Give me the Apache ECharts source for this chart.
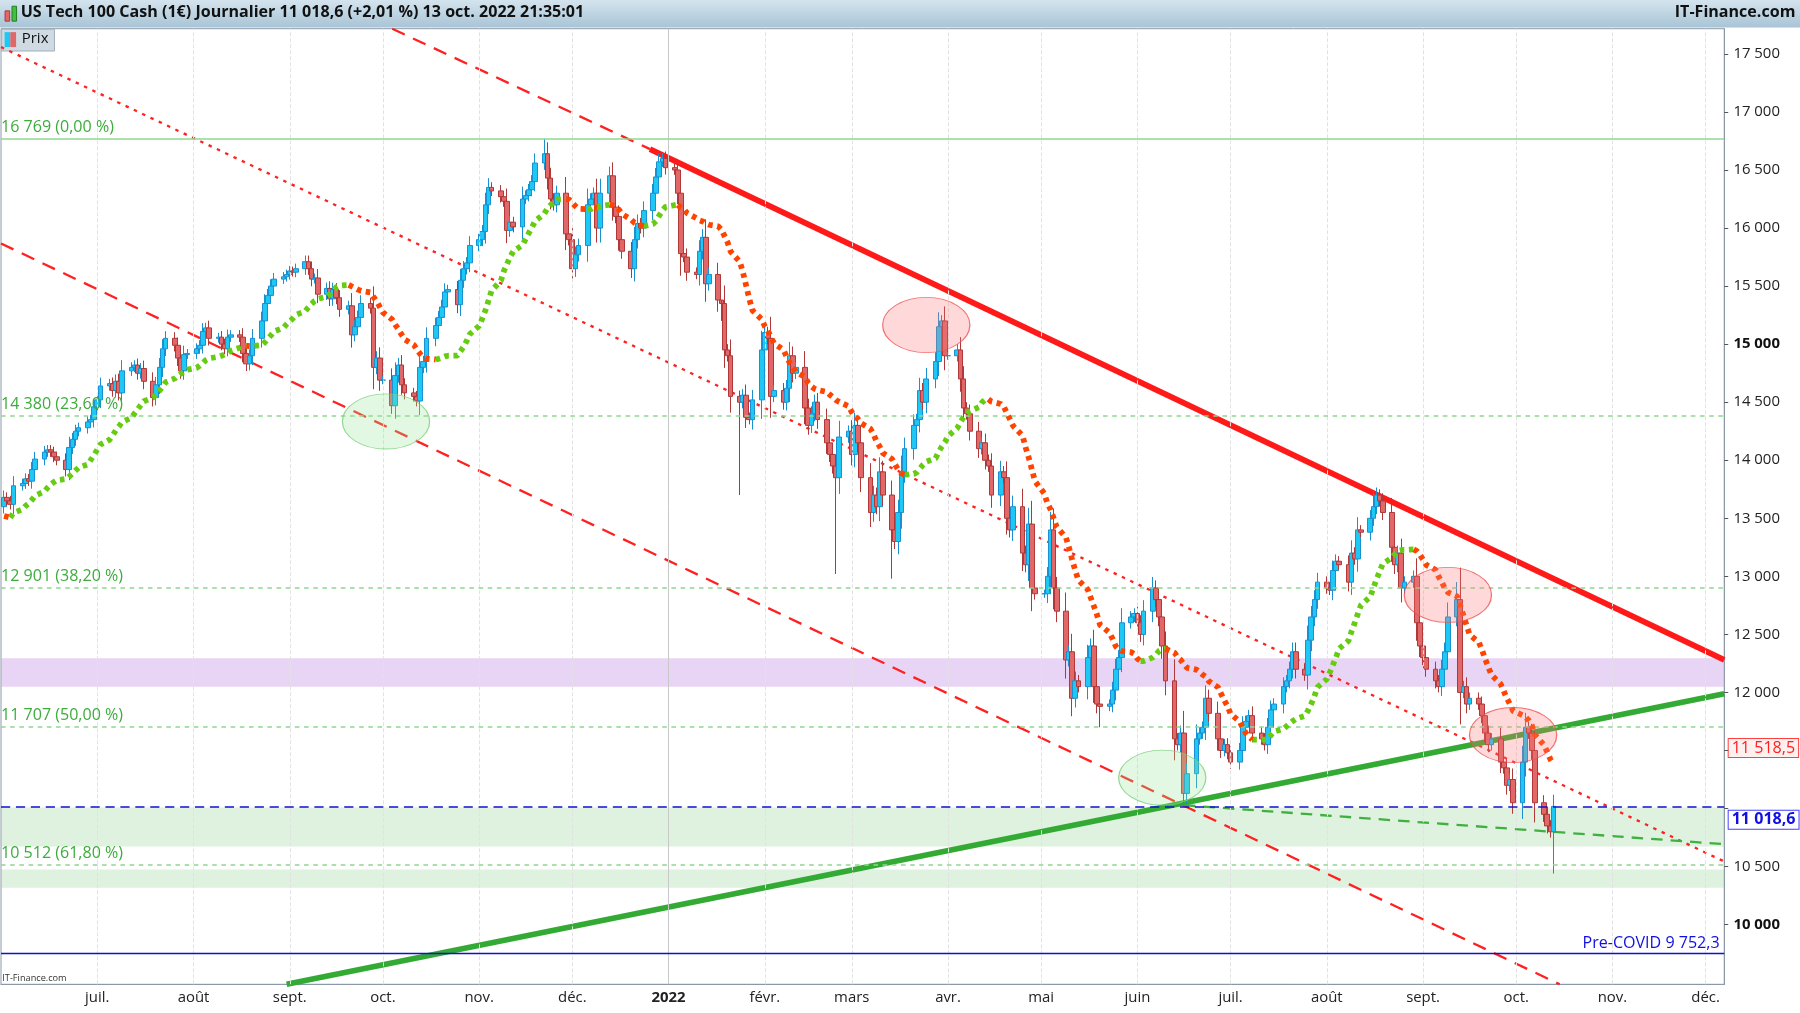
<!DOCTYPE html>
<html><head><meta charset="utf-8">
<script src="https://cdn.jsdelivr.net/npm/echarts@6/dist/echarts.min.js"></script>
<style>html,body{margin:0;padding:0;background:#fff}#c{width:1800px;height:1013px}</style>
</head><body><div id="c"></div>
<script>
const S = 1800/1568;
// Daily closes per month (weekdays in order)
const monthCloses = {
 '2021-06':[13680,13650,13620,13780,13800,13840,13820,13920,14010,14070,14090,14070,14030,14000,13920,14110,14180,14250,14280,14330,14350,14460],
 '2021-07':[14520,14640,14660,14600,14680,14580,14770,14800,14820,14750,14790,14680,14540,14650,14800,14960,15050,14990,14880,14770,14910,14920],
 '2021-08':[14960,14990,15110,15140,15050,15060,15000,14960,15060,15080,15060,14920,14830,14900,15050,15200,15350,15420,15500,15560,15580,15600],
 '2021-09':[15630,15620,15650,15710,15650,15560,15570,15430,15480,15390,15470,15400,15300,15330,15080,15150,15230,15350,15310,14800,14880,14690],
 '2021-10':[14690,14470,14730,14820,14650,14580,14550,14510,14800,14850,15050,15160,15230,15320,15450,15470,15340,15550,15650,15700,15850],
 '2021-11':[15900,15970,16200,16350,16320,16270,16230,15980,16050,16010,16250,16280,16330,16400,16560,16640,16430,16250,16200,16300,15950,15900],
 '2021-12':[15650,15770,15850,16200,16250,16300,16000,16300,16450,16180,16100,15900,15800,15650,15900,16040,16000,16150,16300,16440,16570,16600,16520],
 '2022-01':[16500,16300,15780,15750,15620,15600,15800,15920,15520,15600,15380,15350,14950,14900,14550,14500,14560,14370,14350,14520,14950],
 '2022-02':[15100,15050,14550,14600,14500,14620,14900,14750,14800,14450,14300,14400,14500,14350,14150,14050,13950,13850,14200,14250],
 '2022-03':[14050,14300,14150,13850,13550,13700,13600,13900,13700,13400,13300,13550,13900,14100,14300,14350,14600,14500,14700,14850,15150,15200,14900],
 '2022-04':[14900,14950,14700,14450,14400,14250,14100,14150,14000,13950,13700,13900,13850,13500,13400,13600,13200,13100,13450,12900,12850],
 '2022-05':[12850,13000,13400,12900,12700,12280,12350,11950,12100,12050,12300,12400,12050,11900,11880,11900,12020,12200,12300,12600,12650,12680],
 '2022-06':[12600,12500,12700,12900,12800,12650,12400,12100,11600,11550,11650,11130,11300,11600,11650,11700,11950,11820,11600,11500,11550,11480],
 '2022-07':[11400,11500,11700,11750,11800,11650,11600,11550,11700,11850,11900,12050,12100,12200,12350,12200,12150,12450,12650,12800,12950],
 '2022-08':[12900,12880,13050,13130,13100,12950,13200,13150,13400,13380,13500,13600,13700,13650,13550,13250,13100,13200,12900,12950,13000,12600,12400],
 '2022-09':[12300,12200,12100,12050,12200,12350,12650,12800,12000,12050,11900,11950,11900,11800,11650,11550,11600,11400,11350,11200,11250,11050],
 '2022-10':[11400,11700,11650,11500,11050,10950,10850,10800,11018.6]
};
const firstOpen = 13600;
const spikeLows = {'2021-10-04':14400,'2022-01-24':13700,'2022-02-24':13020,'2022-03-14':12980,'2022-05-20':11700,'2022-06-16':11050,'2022-10-13':10440};
const spikeHighs = {'2021-11-22':16770,'2022-08-16':13720,'2022-09-12':12950,'2022-01-18':15200};
const fibLevels = [16769,14380,12901,11707,10512];
const fibLabels = ['16 769 (0,00 %)','14 380 (23,60 %)','12 901 (38,20 %)','11 707 (50,00 %)','10 512 (61,80 %)'];
const blueDashLevel = 11018.6, preCovid = 9752.3, redLabelLevel = 11518.5;
const purpleBand = [12048,12295], greenBand1 = [10673,11009], greenBand2 = [10317,10475];
const redThick = [['2021-12-26',16680],['2022-12-07',12280]];
const greenThick = [['2021-08-31',9486],['2022-12-07',11989]];
const redDashUpper = [['2021-10-04',17717],['2021-12-26',16680]];
const redDashLower = [['2021-05-31',15867],['2022-10-15',9486]];
const redDotted = [['2021-05-31',17559],['2022-12-07',10544]];
const greenDashThin = [['2022-06-16',11029],['2022-12-07',10693]];
const ellipses = [['2021-10-02',14334,'g'],['2022-03-25',15165,'r'],['2022-06-09',11266,'g'],['2022-09-09',12840,'r'],['2022-09-30',11633,'r']];
const monthNames = ['janv.','févr.','mars','avr.','mai','juin','juil.','août','sept.','oct.','nov.','déc.'];

function ts(s){const p=s.split('-').map(Number);return +new Date(p[0],p[1]-1,p[2]);}
function key(d){return d.getFullYear()+'-'+String(d.getMonth()+1).padStart(2,'0')+'-'+String(d.getDate()).padStart(2,'0');}
const candles=[]; const closes=[]; const times=[];
let prev = firstOpen;
Object.keys(monthCloses).forEach(m=>{
  const [y,mo]=m.split('-').map(Number); const arr=monthCloses[m]; let i=0;
  for(let d=1; d<=31 && i<arr.length; d++){
    const dt=new Date(y,mo-1,d); if(dt.getMonth()!==mo-1) break;
    const wd=dt.getDay(); if(wd===0||wd===6) continue;
    const c=arr[i++]; const o=prev; const k=key(dt);
    const body=Math.abs(c-o);
    let h=Math.max(o,c)+body*0.3+35, l=Math.min(o,c)-body*0.3-35;
    if(spikeLows[k]) l=spikeLows[k]; if(spikeHighs[k]) h=spikeHighs[k];
    candles.push([+dt,o,c,l,h]); closes.push(c); times.push(+dt); prev=c;
  }
});
const N=20; const ma=[];
for(let i=0;i<closes.length;i++){ const a=Math.max(0,i-N+1); let s=0; for(let j=a;j<=i;j++) s+=closes[j]; ma.push(s/(i-a+1) - (i<N?(N-i)*8:0));}
const maUp=[], maDn=[];
for(let i=0;i<ma.length;i++){
  const rising = i>0 ? ma[i]>=ma[i-1] : true;
  const nextRising = i+1<ma.length ? ma[i+1]>=ma[i] : rising;
  maUp.push([times[i], (rising||nextRising)?ma[i]:null]);
  maDn.push([times[i], (!rising||!nextRising)?ma[i]:null]);
}
const monthTicks=[]; for(let k=0;k<18;k++){monthTicks.push(+new Date(2021,6+k,1));}
const yTicks=[]; for(let v=10000; v<=17500; v+=500) yTicks.push(v);
const yLabelTicks = yTicks.filter(v=>v!==11000 && v!==11500);
const fmt = v => { const s=String(Math.round(v)); return s.length>3 ? s.slice(0,-3)+' '+s.slice(-3) : s; };
const conv = a => a.map(p=>[ts(p[0]),p[1]]);
function lineSeries(data,color,width,type){return {type:'line',data:conv(data),showSymbol:false,silent:true,lineStyle:{color,width:width*S,type},z:3,animation:false};}

const chart = echarts.init(document.getElementById('c'));
const baseGraphic = [
    {type:'rect',left:0,top:0,shape:{width:1800,height:24*S},style:{fill:new echarts.graphic.LinearGradient(0,0,0,1,[{offset:0,color:'#d4e4ee'},{offset:1,color:'#a8c4d6'}])}},
    {type:'rect',left:4*S,top:9*S,shape:{width:4*S,height:9*S},style:{fill:'#e06868',stroke:'#b03838'}},
    {type:'rect',left:10*S,top:5*S,shape:{width:4*S,height:13*S},style:{fill:'#40c040',stroke:'#208020'}},
    {type:'text',left:18*S,top:4*S,style:{text:'US Tech 100 Cash (1€) Journalier 11 018,6 (+2,01 %) 13 oct. 2022 21:35:01',font:'bold '+(14*S)+'px "Open Sans"',fill:'#111'}},
    {type:'text',right:4*S,top:4*S,style:{text:'IT-Finance.com',font:'bold '+(14*S)+'px "Open Sans"',fill:'#111'}},
    {type:'rect',left:1*S,top:25*S,shape:{width:46*S,height:19*S},style:{fill:'#cfdae2',stroke:'#a0b0bc'}},
    {type:'rect',left:4*S,top:28*S,shape:{width:5*S,height:13*S},style:{fill:'#1ec8f5'}},
    {type:'rect',left:9*S,top:28*S,shape:{width:5*S,height:13*S},style:{fill:'#e06868'}},
    {type:'text',left:19*S,top:27*S,style:{text:'Prix',font:(13*S)+'px "Open Sans"',fill:'#111'}},
    {type:'text',left:2*S,top:848*S,style:{text:'IT-Finance.com',font:(8*S)+'px "Open Sans"',fill:'#333'}}
];
const option = {
  animation:false,
  grid:{left:1,right:66*S,top:25*S,bottom:25*S,show:true,borderColor:'#8a98a8',borderWidth:1},
  xAxis:{type:'time',min:ts('2021-05-31'),max:ts('2022-12-07'),
    axisLine:{show:true,lineStyle:{color:'#8a98a8'}},
    axisTick:{show:false},splitLine:{show:false},axisLabel:{show:false}},
  yAxis:{type:'value',position:'right',min:9486,max:17717,scale:true,
    axisLine:{show:true,lineStyle:{color:'#8a98a8'}},
    axisTick:{show:true,customValues:yTicks,length:4,lineStyle:{color:'#555'}},
    splitLine:{show:false},
    axisLabel:{customValues:yLabelTicks,color:'#222',fontSize:13*S,fontFamily:'Open Sans',margin:8*S,
      formatter:v=>(v===15000||v===10000)?'{b|'+fmt(v)+'}':fmt(v),
      rich:{b:{fontWeight:'bold',fontSize:13*S,fontFamily:'Open Sans',color:'#111'}}}},
  series:[
    {type:'line',data:[],silent:true,
     markLine:{symbol:'none',silent:true,label:{show:false},
       data:monthTicks.map(t=>({xAxis:t,lineStyle:{color: new Date(t).getMonth()===0?'#c8c8c8':'#e2e2e2',type:new Date(t).getMonth()===0?'solid':'dashed',width:1}}))},
     markArea:{silent:true,data:[
       [{yAxis:purpleBand[0],itemStyle:{color:'rgba(204,160,230,0.45)'}},{yAxis:purpleBand[1]}],
       [{yAxis:greenBand1[0],itemStyle:{color:'rgba(150,210,150,0.3)'}},{yAxis:greenBand1[1]}],
       [{yAxis:greenBand2[0],itemStyle:{color:'rgba(150,210,150,0.3)'}},{yAxis:greenBand2[1]}]]}},
    {type:'line',data:[],silent:true,z:2,
     markLine:{symbol:'none',silent:true,
       data:fibLevels.map((v,i)=>({yAxis:v,lineStyle:{color:'#8fd88f',width:1.5*S,type:i===0?'solid':[4*S,4*S]},
         label:{show:true,position:'insideStartTop',formatter:fibLabels[i],color:'#3dac3d',fontSize:14*S,fontFamily:'Open Sans',distance:[0,3*S]}}))
       .concat([{yAxis:blueDashLevel,lineStyle:{color:'#1010d0',width:1.5*S,type:[8*S,5*S]},label:{show:false}},
                {yAxis:preCovid,lineStyle:{color:'#1010d0',width:1.2*S,type:'solid'},label:{show:true,position:'insideEndTop',formatter:'Pre-COVID 9 752,3',color:'#1010e0',fontSize:14*S,fontFamily:'Open Sans',distance:[4*S,2*S]}}])}},
    lineSeries(redDotted,'#ff2020',2,[3*S,5*S]),
    lineSeries(redDashLower,'#ff2020',2,[12*S,8*S]),
    lineSeries(redDashUpper,'#ff2020',2,[12*S,8*S]),
    lineSeries(greenDashThin,'#40b040',2,[10*S,7*S]),
    {type:'candlestick',data:candles.map(c=>[c[0],c[1],c[2],c[3],c[4]]),barMaxWidth:5*S,barWidth:4.5*S,z:4,
     itemStyle:{color:'#1ec8f5',borderColor:'#1a90d0',color0:'#e06868',borderColor0:'#b03838',borderWidth:1}},
    {type:'line',data:maUp,showSymbol:false,connectNulls:false,lineStyle:{color:'#66cc11',width:5*S,type:[4*S,4*S]},z:5},
    {type:'line',data:maDn,showSymbol:false,connectNulls:false,lineStyle:{color:'#ff4400',width:5*S,type:[4*S,4*S]},z:5},
    lineSeries(redThick,'#ff1a1a',5,'solid'),
    lineSeries(greenThick,'#33aa33',5,'solid'),
    {type:'scatter',silent:true,z:6,data:ellipses.map(e=>({value:[ts(e[0]),e[1]],
      itemStyle:{color:e[2]==='g'?'rgba(150,230,150,0.35)':'rgba(255,120,120,0.35)',borderColor:e[2]==='g'?'#7ad07a':'#f05050',borderWidth:1}})),
     symbol:'circle',symbolSize:[76*S,48*S]}
  ],
  graphic:baseGraphic
};
chart.setOption(option);
const extra=[];
const pR = chart.convertToPixel({gridIndex:0},[ts('2022-12-07'),redLabelLevel]);
const pB = chart.convertToPixel({gridIndex:0},[ts('2022-12-07'),blueDashLevel]);
extra.push({type:'text',left:1505*S,top:pR[1]-9*S,style:{text:'11 518,5',font:(14*S)+'px "Open Sans"',fill:'#ff2020',backgroundColor:'#fff0f0',borderColor:'#ff4040',borderWidth:1,padding:[1,3,1,3]}});
extra.push({type:'text',left:1505*S,top:pB[1]+3*S,style:{text:'11 018,6',font:'bold '+(14*S)+'px "Open Sans"',fill:'#1010e0',backgroundColor:'#fff',borderColor:'#4040ff',borderWidth:1,padding:[1,3,1,3]}});
monthTicks.forEach(t=>{
  const p=chart.convertToPixel({gridIndex:0},[t,9486]); const d=new Date(t); const yr=d.getMonth()===0;
  extra.push({type:'text',x:p[0],y:p[1]+5*S,style:{text:yr?String(d.getFullYear()):monthNames[d.getMonth()],align:'center',font:(yr?'bold ':'')+(13*S)+'px "Open Sans"',fill:'#222'}});
});
chart.setOption({graphic:baseGraphic.concat(extra)});
</script></body></html>
